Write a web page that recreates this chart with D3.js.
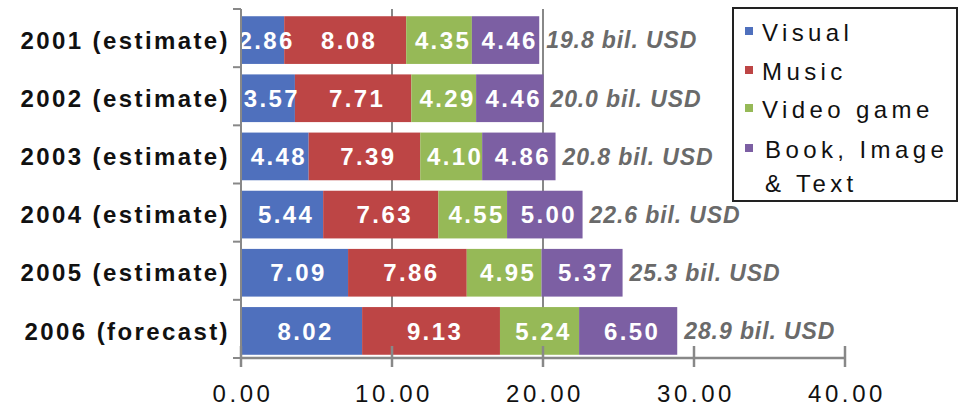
<!DOCTYPE html>
<html>
<head>
<meta charset="utf-8">
<script src="https://cdn.jsdelivr.net/npm/d3@7"></script>
<style>
  body { margin: 0; background: #fff; }
  svg { display: block; font-family: "Liberation Sans", Arial, sans-serif; }
</style>
</head>
<body>
<div id="chart"></div>
<script>
// datos del gráfico
const categories = ["2001 (estimate)", "2002 (estimate)", "2003 (estimate)", "2004 (estimate)", "2005 (estimate)", "2006 (forecast)"];
const seriesNames = ["Visual", "Music", "Video game", "Book, Image & Text"];
const visual = [2.86, 3.57, 4.48, 5.44, 7.09, 8.02];
const music = [8.08, 7.71, 7.39, 7.63, 7.86, 9.13];
const videoGame = [4.35, 4.29, 4.10, 4.55, 4.95, 5.24];
const bookImageText = [4.46, 4.46, 4.86, 5.00, 5.37, 6.50];
const totalLabels = ["19.8 bil. USD", "20.0 bil. USD", "20.8 bil. USD", "22.6 bil. USD", "25.3 bil. USD", "28.9 bil. USD"];
const xTicks = [0, 10, 20, 30, 40];
const gridTicks = [10, 20];

const colors = ["#4f70bd", "#bd4545", "#96b957", "#7c5fa3"];
const series = [visual, music, videoGame, bookImageText];

const width = 961, height = 406;
const svg = d3.select("#chart").append("svg")
  .attr("width", width)
  .attr("height", height);

const x = d3.scaleLinear().domain([0, 40]).range([241, 845]);
const y = d3.scaleBand().domain(categories).range([11, 360]).paddingInner(0.18).paddingOuter(0.09);
const yEdge = d3.scaleLinear().domain([0, categories.length]).range([9, 358]);

// gridlines detrás de las barras
svg.append("g").selectAll("line")
  .data(gridTicks)
  .join("line")
  .attr("x1", d => x(d)).attr("x2", d => x(d))
  .attr("y1", yEdge(0)).attr("y2", yEdge(categories.length))
  .attr("stroke", "#888").attr("stroke-width", 2);

// apilar
const rows = categories.map((c, i) => {
  let acc = 0;
  return series.map((s, k) => {
    const seg = { cat: c, k, v: s[i], x0: acc, x1: acc + s[i] };
    acc += s[i];
    return seg;
  });
});
const segs = rows.flat();

svg.append("g").selectAll("rect")
  .data(segs)
  .join("rect")
  .attr("x", d => x(d.x0))
  .attr("y", d => y(d.cat))
  .attr("width", d => x(d.x1) - x(d.x0))
  .attr("height", y.bandwidth())
  .attr("fill", d => colors[d.k]);

svg.append("g").selectAll("text")
  .data(segs)
  .join("text")
  .attr("x", d => x((d.x0 + d.x1) / 2) + 4)
  .attr("y", d => y(d.cat) + y.bandwidth() / 2)
  .attr("dy", "0.36em")
  .attr("text-anchor", "middle")
  .attr("font-size", 24)
  .attr("font-weight", "bold")
  .attr("letter-spacing", 2.4)
  .attr("fill", "#fff")
  .text(d => d.v.toFixed(2));

// totales
svg.append("g").selectAll("text")
  .data(categories)
  .join("text")
  .attr("x", (d, i) => x(rows[i][3].x1) + 7)
  .attr("y", d => y(d) + y.bandwidth() / 2)
  .attr("dy", "0.36em")
  .attr("font-size", 23)
  .attr("font-weight", "bold")
  .attr("font-style", "italic")
  .attr("letter-spacing", 0.9)
  .attr("fill", "#6a6a6a")
  .text((d, i) => totalLabels[i]);

// eje vertical
svg.append("line")
  .attr("x1", x(0)).attr("x2", x(0))
  .attr("y1", yEdge(0)).attr("y2", yEdge(categories.length))
  .attr("stroke", "#888").attr("stroke-width", 2);
svg.append("g").selectAll("line")
  .data(d3.range(categories.length + 1))
  .join("line")
  .attr("x1", x(0) - 8).attr("x2", x(0))
  .attr("y1", d => yEdge(d)).attr("y2", d => yEdge(d))
  .attr("stroke", "#888").attr("stroke-width", 2);

svg.append("g").selectAll("text")
  .data(categories)
  .join("text")
  .attr("x", 230)
  .attr("y", d => y(d) + y.bandwidth() / 2)
  .attr("dy", "0.36em")
  .attr("text-anchor", "end")
  .attr("font-size", 24)
  .attr("font-weight", "bold")
  .attr("letter-spacing", 2.4)
  .attr("fill", "#111")
  .text(d => d);

// eje horizontal
const yAxis = yEdge(categories.length);
svg.append("line")
  .attr("x1", x(0)).attr("x2", x(40))
  .attr("y1", yAxis).attr("y2", yAxis)
  .attr("stroke", "#888").attr("stroke-width", 2.5);
svg.append("g").selectAll("line")
  .data(xTicks)
  .join("line")
  .attr("x1", d => x(d)).attr("x2", d => x(d))
  .attr("y1", yAxis - 12).attr("y2", yAxis + 9)
  .attr("stroke", "#888").attr("stroke-width", 2.5);
svg.append("g").selectAll("text")
  .data(xTicks)
  .join("text")
  .attr("x", d => x(d) + 2)
  .attr("y", 402)
  .attr("text-anchor", "middle")
  .attr("font-size", 24)
  .attr("letter-spacing", 3.6)
  .attr("fill", "#111")
  .text(d => d.toFixed(2));

// leyenda
const legend = svg.append("g");
legend.append("rect")
  .attr("x", 733).attr("y", 8)
  .attr("width", 224).attr("height", 193)
  .attr("fill", "#fff")
  .attr("stroke", "#222").attr("stroke-width", 2);
const legendY = [32, 71, 109, 149];
seriesNames.forEach((name, k) => {
  legend.append("rect")
    .attr("x", 745).attr("y", legendY[k] - 5)
    .attr("width", 8).attr("height", 8)
    .attr("fill", colors[k]);
  const t = legend.append("text")
    .attr("x", 762)
    .attr("y", legendY[k])
    .attr("dy", "0.36em")
    .attr("font-size", 24)
    .attr("letter-spacing", 4.4)
    .attr("fill", "#111");
  if (name.includes("&")) {
    t.append("tspan").attr("x", 765).text("Book, Image");
    t.append("tspan").attr("x", 765).attr("dy", 34).text("& Text");
  } else {
    t.text(name);
  }
});
</script>
</body>
</html>
